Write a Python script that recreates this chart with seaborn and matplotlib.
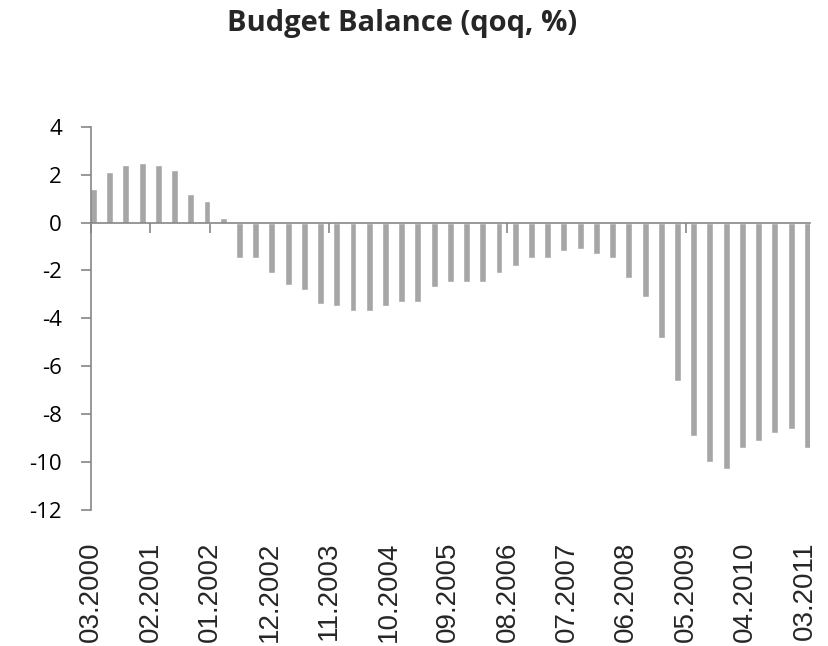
import matplotlib
matplotlib.use("Agg")
import matplotlib.pyplot as plt
import seaborn as sns
import pandas as pd

# quarterly budget balance, 2000Q1 .. 2011Q1
quarters = [f"{y}Q{q}" for y in range(2000, 2012) for q in range(1, 5)][:45]
balance = [1.4, 2.1, 2.4, 2.5, 2.4, 2.2, 1.2, 0.9, 0.2,
           -1.5, -1.5, -2.1, -2.6, -2.8, -3.4, -3.5, -3.7, -3.7, -3.5,
           -3.3, -3.3, -2.7, -2.5, -2.5, -2.5, -2.1, -1.8, -1.5, -1.5,
           -1.2, -1.1, -1.3, -1.5, -2.3, -3.1, -4.8, -6.6, -8.9, -10.0,
           -10.3, -9.4, -9.1, -8.8, -8.6, -9.4]
tick_labels = ["03.2000", "02.2001", "01.2002", "12.2002", "11.2003", "10.2004",
               "09.2005", "08.2006", "07.2007", "06.2008", "05.2009", "04.2010",
               "03.2011"]

df = pd.DataFrame({"quarter": quarters, "balance": balance})

sns.set_style("white")
grey = "#868686"

fig = plt.figure(figsize=(8.29, 6.46), dpi=100)
ax = fig.add_axes([91 / 829, 1 - 510 / 646, (810 - 91) / 829, (510 - 126.7) / 646])

sns.barplot(data=df, x="quarter", y="balance", color="#A6A6A6", saturation=1,
            width=0.43, ax=ax)

# tick every 11 months on a quarterly series
tick_pos = [k * 11 / 3 - 0.15 for k in range(len(tick_labels))]

ax.set_xlim(-0.15, 44.17)
ax.set_ylim(-12, 4)
ax.set_yticks(range(-12, 5, 2))
ax.set_yticklabels([str(v) for v in range(-12, 5, 2)], family="Open Sans", fontsize=16)
ax.set_xlabel("")
ax.set_ylabel("")

for s in ["top", "right"]:
    ax.spines[s].set_visible(False)
ax.spines["left"].set_color(grey)
ax.spines["left"].set_linewidth(1.2)
ax.spines["bottom"].set_position(("data", 0))
ax.spines["bottom"].set_color(grey)
ax.spines["bottom"].set_linewidth(1.2)
ax.spines["bottom"].set_zorder(5)

ax.set_xticks(tick_pos)
ax.tick_params(axis="x", bottom=True, direction="out", length=7, width=1.2,
               color=grey, labelbottom=False)
ax.tick_params(axis="y", left=True, direction="out", length=7, width=1.2,
               color=grey, pad=14, labelcolor="black")

# date labels along the bottom edge
sec = ax.secondary_xaxis("bottom")
sec.set_xticks(tick_pos)
sec.set_xticklabels(tick_labels, rotation=90, family="Liberation Sans", fontsize=20)
sec.tick_params(bottom=False, length=0, pad=23)
sec.spines["bottom"].set_visible(False)

fig.text(402 / 829, 1 - 9 / 646, "Budget Balance (qoq, %)", ha="center", va="top",
         family="Open Sans", fontweight="bold", fontsize=21)

fig.savefig("out.png", dpi=100)
